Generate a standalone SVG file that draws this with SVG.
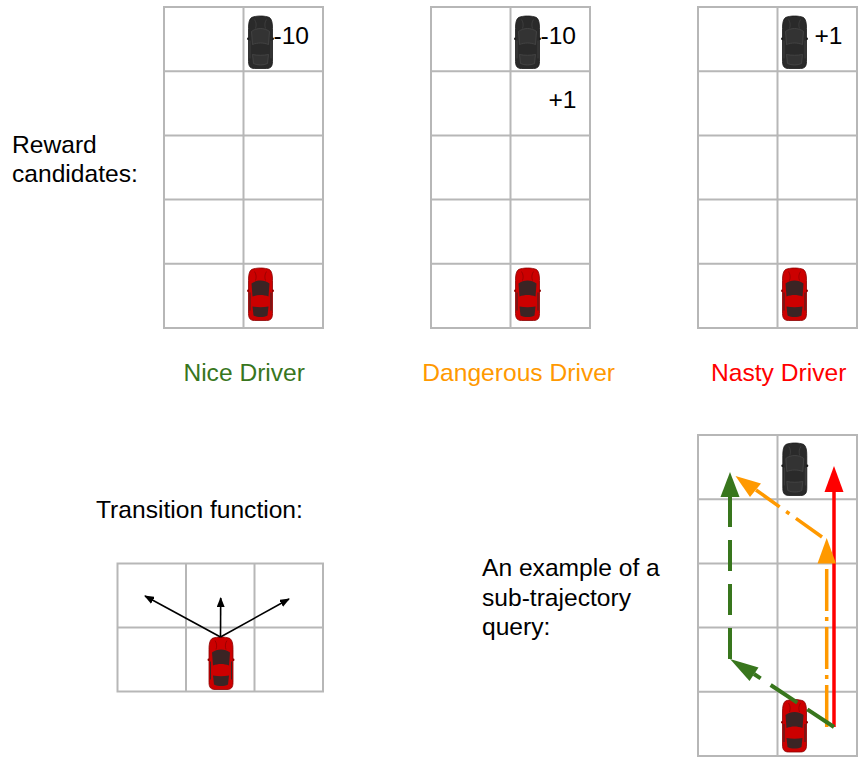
<svg xmlns="http://www.w3.org/2000/svg" width="862" height="761" viewBox="0 0 862 761">
  <style>
    text { font-family: "Liberation Sans", Arial, sans-serif; font-size: 24.6px; fill: #000; }
    .grid { fill: #fff; stroke: #b7b7b7; stroke-width: 2; }
    .gl { stroke: #b7b7b7; stroke-width: 2; fill: none; }
    .nice { fill: #38761d; }
    .danger { fill: #ff9900; }
    .nasty { fill: #ff0000; }
    .tarrow { stroke: #000; stroke-width: 1.6; fill: none; }
  </style>
  <defs>
    <!-- top-down car, front pointing up, centred on 0,0 -->
    <symbol id="carRed" viewBox="-13.5 -26.5 27 53" overflow="visible">
      <rect x="-13.5" y="-5" width="27" height="2.4" rx="1.2" fill="#8a0000"/>
      <path d="M -9,-25 C -4,-27 4,-27 9,-25 C 11.5,-23 12,-19 12,-14 L 12,19 C 12,24 10,26 6,26 L -6,26 C -10,26 -12,24 -12,19 L -12,-14 C -12,-19 -11.5,-23 -9,-25 Z" fill="#cc0000" stroke="#8a0000" stroke-width="0.8"/>
      <path d="M -6,-23 C -4,-20 -4,-17 -5,-14 M 6,-23 C 4,-20 4,-17 5,-14" stroke="#8a0000" stroke-width="0.7" fill="none"/>
      <path d="M -9,-11 C -4,-15 4,-15 9,-11 L 8,2 C 3,0 -3,0 -8,2 Z" fill="#3b2424"/>
      <path d="M -8,12 C -3,13 3,13 8,12 L 7,21 C 3,23 -3,23 -7,21 Z" fill="#3b2424"/>
      <path d="M -10.5,-2 L -10.5,16 M 10.5,-2 L 10.5,16" stroke="#3b2424" stroke-width="1" fill="none"/>
    </symbol>
    <symbol id="carBlack" viewBox="-13.5 -26.5 27 53" overflow="visible">
      <rect x="-13.5" y="-5" width="27" height="2.4" rx="1.2" fill="#1a1a1a"/>
      <path d="M -9,-25 C -4,-27 4,-27 9,-25 C 11.5,-23 12,-19 12,-14 L 12,19 C 12,24 10,26 6,26 L -6,26 C -10,26 -12,24 -12,19 L -12,-14 C -12,-19 -11.5,-23 -9,-25 Z" fill="#2a2a2a" stroke="#1a1a1a" stroke-width="0.8"/>
      <path d="M -6,-23 C -4,-20 -4,-17 -5,-14 M 6,-23 C 4,-20 4,-17 5,-14" stroke="#444" stroke-width="0.7" fill="none"/>
      <path d="M -9,-11 C -4,-15 4,-15 9,-11 L 8,2 C 3,0 -3,0 -8,2 Z" fill="#333" stroke="#4a4a4a" stroke-width="0.7"/>
      <path d="M -8,12 C -3,13 3,13 8,12 L 7,21 C 3,23 -3,23 -7,21 Z" fill="#333" stroke="#4a4a4a" stroke-width="0.7"/>
      <path d="M -10.5,-2 L -10.5,16 M 10.5,-2 L 10.5,16" stroke="#444" stroke-width="0.8" fill="none"/>
    </symbol>
    <!-- 2 x 5 road grid, 159 x 321 -->
    <g id="road">
      <rect class="grid" x="0" y="0" width="159" height="321"/>
      <path class="gl" d="M 79.5,0 V 321 M 0,64.2 H 159 M 0,128.4 H 159 M 0,192.6 H 159 M 0,256.8 H 159"/>
    </g>
    <marker id="blackHead" viewBox="0 0 10 8" refX="9" refY="4" markerWidth="10" markerHeight="8" markerUnits="userSpaceOnUse" orient="auto">
      <path d="M 0,0 L 10,4 L 0,8 Z" fill="#000"/>
    </marker>
  </defs>

  <!-- label for the top row -->
  <g id="reward-label">
    <text x="12" y="152.5">Reward</text>
    <text x="12" y="181.7">candidates:</text>
  </g>

  <!-- Nice driver reward grid -->
  <g id="nice-grid">
    <use href="#road" x="164" y="7"/>
    <use href="#carBlack" x="247" y="16" width="27" height="53"/>
    <use href="#carRed" x="247" y="268" width="27" height="53"/>
    <text x="273.5" y="43.5">-10</text>
  </g>

  <!-- Dangerous driver reward grid -->
  <g id="dangerous-grid">
    <use href="#road" x="431" y="7"/>
    <use href="#carBlack" x="514" y="16" width="27" height="53"/>
    <use href="#carRed" x="514" y="268" width="27" height="53"/>
    <text x="540.5" y="43.5">-10</text>
    <text x="548.5" y="108">+1</text>
  </g>

  <!-- Nasty driver reward grid -->
  <g id="nasty-grid">
    <use href="#road" x="698" y="7"/>
    <use href="#carBlack" x="781" y="16" width="27" height="53"/>
    <use href="#carRed" x="781" y="268" width="27" height="53"/>
    <text x="814.5" y="43.5">+1</text>
  </g>

  <!-- driver type captions -->
  <g id="captions">
    <text class="nice" x="244.2" y="381" text-anchor="middle">Nice Driver</text>
    <text class="danger" x="518.7" y="381" text-anchor="middle">Dangerous Driver</text>
    <text class="nasty" x="778.7" y="381" text-anchor="middle">Nasty Driver</text>
  </g>

  <!-- transition function -->
  <g id="transition-label">
    <text x="96" y="518">Transition function:</text>
  </g>
  <g id="transition-grid">
    <rect class="grid" x="117.5" y="563.5" width="205.5" height="128"/>
    <path class="gl" d="M 186,563.5 V 691.5 M 254.5,563.5 V 691.5 M 117.5,627.5 H 323"/>
    <use href="#carRed" x="207.5" y="637" width="27" height="53"/>
  </g>

  <!-- sub-trajectory query example -->
  <g id="query-label">
    <text x="482" y="576">An example of a</text>
    <text x="482" y="605.5">sub-trajectory</text>
    <text x="482" y="635">query:</text>
  </g>
  <g id="query-grid">
    <use href="#road" x="698" y="435"/>
    <use href="#carBlack" x="781.3" y="443" width="27" height="53"/>
    <use href="#carRed" x="781" y="699.5" width="27" height="53"/>
  </g>

  <!-- connectors -->
  <g id="connectors">
    <!-- possible moves -->
    <line class="tarrow" x1="220.5" y1="637" x2="145" y2="596" marker-end="url(#blackHead)"/>
    <line class="tarrow" x1="220.5" y1="637" x2="220.7" y2="598" marker-end="url(#blackHead)"/>
    <line class="tarrow" x1="220.5" y1="637" x2="289" y2="599" marker-end="url(#blackHead)"/>

    <!-- nasty trajectory: straight ahead -->
    <line x1="834" y1="727" x2="834" y2="491" stroke="#ff0000" stroke-width="3.5"/>
    <polygon points="834,466 824.5,492 843.5,492" fill="#ff0000"/>

    <!-- dangerous trajectory -->
    <line x1="826.7" y1="727" x2="826.7" y2="562" stroke="#ff9900" stroke-width="3.5" stroke-dasharray="42 6 4 6"/>
    <polygon points="826.7,538 817.5,563.5 836,563.5" fill="#ff9900"/>
    <line x1="822" y1="537" x2="756" y2="490" stroke="#ff9900" stroke-width="3.5" stroke-dasharray="32 8 4 8"/>
    <polygon points="735.5,476 761,483.5 750,497" fill="#ff9900"/>

    <!-- nice trajectory -->
    <line x1="834" y1="727" x2="754" y2="674" stroke="#38761d" stroke-width="4" stroke-dasharray="32 12"/>
    <polygon points="730,659 758.5,667.5 749.5,681" fill="#38761d"/>
    <line x1="730" y1="659" x2="730" y2="496" stroke="#38761d" stroke-width="4" stroke-dasharray="31 13"/>
    <polygon points="730,472 720.5,497 739.5,497" fill="#38761d"/>
  </g>
</svg>
